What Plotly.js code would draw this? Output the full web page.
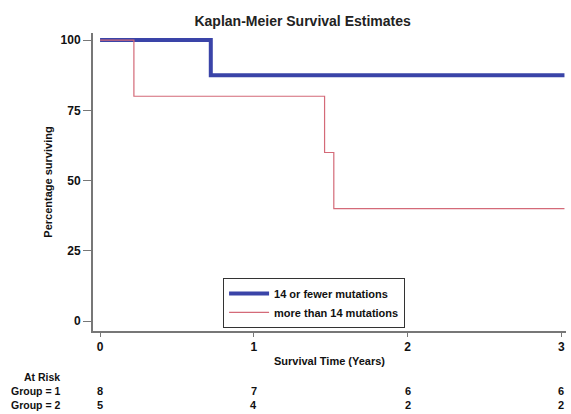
<!DOCTYPE html>
<html><head><meta charset="utf-8">
<script src="https://cdn.plot.ly/plotly-3.0.1.min.js"></script>
<style>body{margin:0;background:#fff}#c{width:571px;height:414px}</style>
</head><body><div id="c"></div>
<script>
const g1Time = [0, 0.72, 3.02];
const g1Surv = [100, 87.5, 87.5];
const g2Time = [0, 0.22, 1.46, 1.52, 3.02];
const g2Surv = [100, 80, 60, 40, 40];
const riskTimes = [0, 1, 2, 3];
const risk1 = [8, 7, 6, 6];
const risk2 = [5, 4, 2, 2];
const FONT = "'Liberation Sans', Arial, sans-serif";

const traces = [
  {x: g1Time, y: g1Surv, mode: 'lines', line: {shape: 'hv', color: '#3a44a8', width: 4}, name: '<b>14 or fewer mutations</b>'},
  {x: g2Time, y: g2Surv, mode: 'lines', line: {shape: 'hv', color: '#d46a78', width: 1.2}, name: '<b>more than 14 mutations</b>'}
];
const ann = [];
const lab = {size: 10.5, family: FONT, color: '#111'};
ann.push({xref:'paper', yref:'paper', x:-0.066, y:-0.155, xanchor:'right', yanchor:'middle', text:'<b>At Risk</b>', showarrow:false, font:lab});
ann.push({xref:'paper', yref:'paper', x:-0.066, y:-0.202, xanchor:'right', yanchor:'middle', text:'<b>Group = 1</b>', showarrow:false, font:lab});
ann.push({xref:'paper', yref:'paper', x:-0.066, y:-0.249, xanchor:'right', yanchor:'middle', text:'<b>Group = 2</b>', showarrow:false, font:lab});
riskTimes.forEach((t,i)=>{
  ann.push({xref:'x', yref:'paper', x:t, y:-0.202, xanchor:'center', yanchor:'middle', text:'<b>'+risk1[i]+'</b>', showarrow:false, font:{size:11, family:FONT, color:'#111'}});
  ann.push({xref:'x', yref:'paper', x:t, y:-0.249, xanchor:'center', yanchor:'middle', text:'<b>'+risk2[i]+'</b>', showarrow:false, font:{size:11, family:FONT, color:'#111'}});
});
const layout = {
  width: 571, height: 414,
  margin: {l: 93, r: 5, t: 33, b: 83},
  paper_bgcolor: '#fff', plot_bgcolor: '#fff',
  title: {text: '<b>Kaplan-Meier Survival Estimates</b>', x: 0.53, xanchor: 'center', y: 0.95, yanchor: 'middle', font: {size: 14, family: FONT, color: '#222'}},
  xaxis: {range: [-0.046, 3.03], tickvals: riskTimes, ticktext: riskTimes.map(v=>'<b>'+v+'</b>'), showgrid: false, zeroline: false,
    showline: true, linecolor: '#777', linewidth: 2, ticks: 'outside', ticklen: 4, tickcolor: '#777',
    tickfont: {size: 12, family: FONT, color: '#111'},
    title: {text: '<b>Survival Time (Years)</b>', standoff: 4, font: {size: 11, family: FONT, color: '#111'}}},
  yaxis: {range: [-3.5, 102.5], tickvals: [0,25,50,75,100], ticktext: ['<b>0</b>','<b>25</b>','<b>50</b>','<b>75</b>','<b>100</b>'], showgrid: false, zeroline: false,
    showline: true, linecolor: '#777', linewidth: 2, ticks: 'outside', ticklen: 8, tickcolor: '#777',
    tickfont: {size: 12, family: FONT, color: '#111'},
    title: {text: '<b>Percentage surviving</b>', standoff: 6, font: {size: 11, family: FONT, color: '#111'}}},
  showlegend: true,
  legend: {x: 0.275, y: 0.178, xanchor: 'left', yanchor: 'top', bordercolor: '#333', borderwidth: 1, bgcolor: '#fff',
    font: {size: 11, family: FONT, color: '#111'}, tracegroupgap: 0, itemwidth: 40},
  annotations: ann
};
Plotly.newPlot('c', traces, layout, {displayModeBar: false, staticPlot: true});
</script></body></html>
